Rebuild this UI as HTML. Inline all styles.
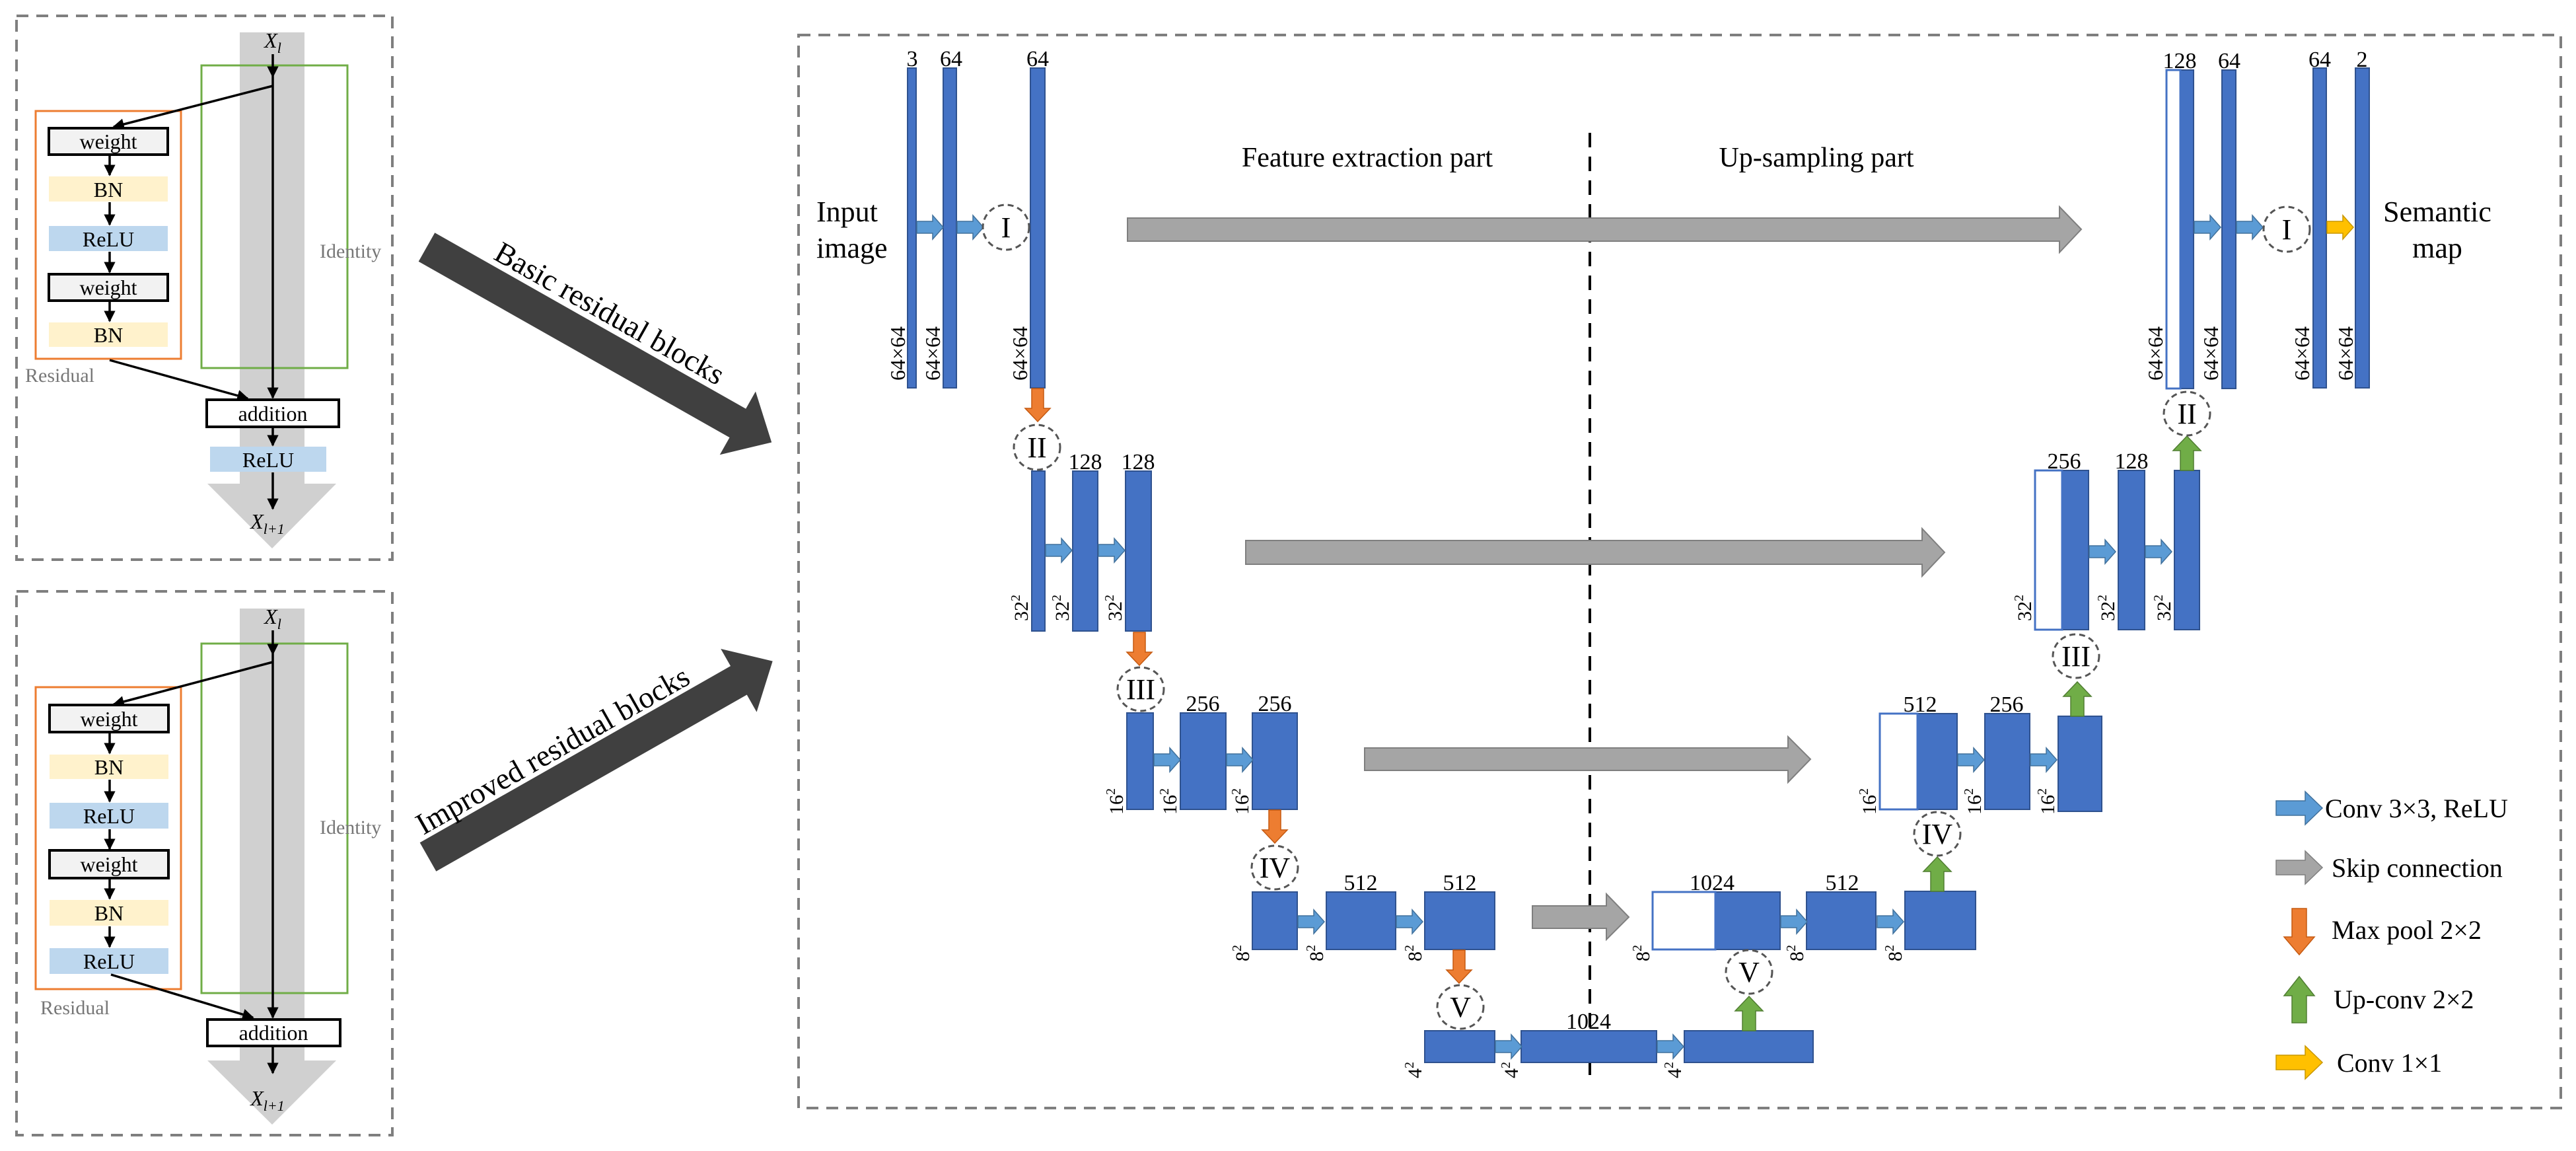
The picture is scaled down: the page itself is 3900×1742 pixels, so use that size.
<!DOCTYPE html>
<html><head><meta charset="utf-8"><style>
html,body{margin:0;padding:0;background:#fff;}
svg{display:block;font-family:"Liberation Serif",serif;}
svg text{font-family:"Liberation Serif",serif;fill:#000;}
</style></head><body>
<svg width="3900" height="1742" viewBox="0 0 3900 1742" xmlns="http://www.w3.org/2000/svg" font-family="Liberation Serif, serif">
<defs>
<marker id="ah" markerWidth="5" markerHeight="5" refX="4.5" refY="2.5" orient="auto" markerUnits="strokeWidth"><path d="M0,0 L5,2.5 L0,5 Z" fill="#000"/></marker>
<path id="ca" d="M0,-9 H24 V-18 L40,0 L24,18 V9 H0 Z" fill="#5B9BD5" stroke="#41719C" stroke-width="1.5"/>
<path id="ya" d="M0,-9 H24 V-18 L40,0 L24,18 V9 H0 Z" fill="#FFC000" stroke="#C99700" stroke-width="1.5"/>
<path id="oa" d="M-9,0 V30 H-19 L0,50 L19,30 H9 V0 Z" fill="#ED7D31" stroke="#C55A11" stroke-width="1.5"/>
<path id="ga" d="M-10,0 V-30 H-21 L0,-52 L21,-30 H10 V0 Z" fill="#70AD47" stroke="#507E32" stroke-width="1.5"/>
</defs>

<!-- LEFT PANEL 1 -->
<rect x="25" y="24" width="569" height="823" fill="none" stroke="#7F7F7F" stroke-width="4" stroke-dasharray="18,12"/>
<path d="M363,49 H461 V732 H509 L412,830 L314,732 H363 Z" fill="#D0D0D0"/>
<rect x="305" y="99" width="221" height="458" fill="none" stroke="#70AD47" stroke-width="3"/>
<rect x="54" y="168" width="220" height="375" fill="none" stroke="#ED7D31" stroke-width="3"/>
<text x="413" y="72" font-size="32" font-style="italic" text-anchor="middle">X<tspan font-size="22" dy="8">l</tspan></text>
<line x1="413" y1="82" x2="413" y2="116" stroke="#000" stroke-width="3.5" marker-end="url(#ah)"/>
<line x1="413" y1="116" x2="413" y2="602" stroke="#000" stroke-width="3.5" marker-end="url(#ah)"/>
<line x1="413" y1="130" x2="172" y2="192" stroke="#000" stroke-width="3.5" marker-end="url(#ah)"/>
<rect x="74" y="194" width="180" height="40" fill="#F2F2F2" stroke="#000" stroke-width="4"/>
<text x="164" y="225" font-size="32" text-anchor="middle">weight</text>
<line x1="166" y1="235" x2="166" y2="265" stroke="#000" stroke-width="3.5" marker-end="url(#ah)"/>
<rect x="74" y="267" width="180" height="38" fill="#FFF2CC"/>
<text x="164" y="298" font-size="32" text-anchor="middle">BN</text>
<line x1="166" y1="306" x2="166" y2="340" stroke="#000" stroke-width="3.5" marker-end="url(#ah)"/>
<rect x="74" y="342" width="180" height="38" fill="#BDD7EE"/>
<text x="164" y="373" font-size="32" text-anchor="middle">ReLU</text>
<line x1="166" y1="381" x2="166" y2="412" stroke="#000" stroke-width="3.5" marker-end="url(#ah)"/>
<rect x="74" y="415" width="180" height="40" fill="#F2F2F2" stroke="#000" stroke-width="4"/>
<text x="164" y="446" font-size="32" text-anchor="middle">weight</text>
<line x1="166" y1="456" x2="166" y2="486" stroke="#000" stroke-width="3.5" marker-end="url(#ah)"/>
<rect x="74" y="488" width="180" height="37" fill="#FFF2CC"/>
<text x="164" y="518" font-size="32" text-anchor="middle">BN</text>
<text x="38" y="578" font-size="30" style="fill:#777">Residual</text>
<text x="484" y="390" font-size="30" style="fill:#777">Identity</text>
<line x1="166" y1="545" x2="375" y2="603" stroke="#000" stroke-width="3.5" marker-end="url(#ah)"/>
<rect x="313" y="605" width="200" height="41" fill="#fff" stroke="#000" stroke-width="4"/>
<text x="413" y="637" font-size="32" text-anchor="middle">addition</text>
<line x1="413" y1="647" x2="413" y2="674" stroke="#000" stroke-width="3.5" marker-end="url(#ah)"/>
<rect x="318" y="676" width="176" height="38" fill="#BDD7EE"/>
<text x="406" y="707" font-size="32" text-anchor="middle">ReLU</text>
<line x1="413" y1="715" x2="413" y2="770" stroke="#000" stroke-width="3.5" marker-end="url(#ah)"/>
<text x="405" y="800" font-size="32" font-style="italic" text-anchor="middle">X<tspan font-size="22" dy="8">l+1</tspan></text>

<!-- LEFT PANEL 2 -->
<rect x="25" y="895" width="569" height="823" fill="none" stroke="#7F7F7F" stroke-width="4" stroke-dasharray="18,12"/>
<path d="M363,921 H461 V1605 H509 L412,1702 L314,1605 H363 Z" fill="#D0D0D0"/>
<rect x="305" y="974" width="221" height="529" fill="none" stroke="#70AD47" stroke-width="3"/>
<rect x="54" y="1040" width="220" height="457" fill="none" stroke="#ED7D31" stroke-width="3"/>
<text x="413" y="944" font-size="32" font-style="italic" text-anchor="middle">X<tspan font-size="22" dy="8">l</tspan></text>
<line x1="413" y1="954" x2="413" y2="990" stroke="#000" stroke-width="3.5" marker-end="url(#ah)"/>
<line x1="413" y1="990" x2="413" y2="1540" stroke="#000" stroke-width="3.5" marker-end="url(#ah)"/>
<line x1="413" y1="1002" x2="172" y2="1066" stroke="#000" stroke-width="3.5" marker-end="url(#ah)"/>
<rect x="75" y="1067" width="180" height="41" fill="#F2F2F2" stroke="#000" stroke-width="4"/>
<text x="165" y="1099" font-size="32" text-anchor="middle">weight</text>
<line x1="166" y1="1109" x2="166" y2="1140" stroke="#000" stroke-width="3.5" marker-end="url(#ah)"/>
<rect x="75" y="1142" width="180" height="37" fill="#FFF2CC"/>
<text x="165" y="1172" font-size="32" text-anchor="middle">BN</text>
<line x1="166" y1="1180" x2="166" y2="1213" stroke="#000" stroke-width="3.5" marker-end="url(#ah)"/>
<rect x="75" y="1215" width="180" height="39" fill="#BDD7EE"/>
<text x="165" y="1246" font-size="32" text-anchor="middle">ReLU</text>
<line x1="166" y1="1255" x2="166" y2="1285" stroke="#000" stroke-width="3.5" marker-end="url(#ah)"/>
<rect x="75" y="1287" width="180" height="42" fill="#F2F2F2" stroke="#000" stroke-width="4"/>
<text x="165" y="1319" font-size="32" text-anchor="middle">weight</text>
<line x1="166" y1="1330" x2="166" y2="1360" stroke="#000" stroke-width="3.5" marker-end="url(#ah)"/>
<rect x="75" y="1362" width="180" height="39" fill="#FFF2CC"/>
<text x="165" y="1393" font-size="32" text-anchor="middle">BN</text>
<line x1="166" y1="1402" x2="166" y2="1433" stroke="#000" stroke-width="3.5" marker-end="url(#ah)"/>
<rect x="75" y="1435" width="180" height="39" fill="#BDD7EE"/>
<text x="165" y="1466" font-size="32" text-anchor="middle">ReLU</text>
<text x="61" y="1535" font-size="30" style="fill:#777">Residual</text>
<text x="484" y="1262" font-size="30" style="fill:#777">Identity</text>
<line x1="168" y1="1475" x2="383" y2="1540" stroke="#000" stroke-width="3.5" marker-end="url(#ah)"/>
<rect x="314" y="1543" width="201" height="40" fill="#fff" stroke="#000" stroke-width="4"/>
<text x="414" y="1574" font-size="32" text-anchor="middle">addition</text>
<line x1="413" y1="1584" x2="413" y2="1624" stroke="#000" stroke-width="3.5" marker-end="url(#ah)"/>
<text x="405" y="1673" font-size="32" font-style="italic" text-anchor="middle">X<tspan font-size="22" dy="8">l+1</tspan></text>

<!-- BIG ARROWS -->
<g transform="translate(646,374) rotate(29.5)">
<path d="M0,-25 H541 V-55 L600,0 L541,55 V25 H0 Z" fill="#404040"/>
<text x="95" y="-34" font-size="46">Basic residual blocks</text>
</g>
<g transform="translate(648,1297) rotate(-29.6)">
<path d="M0,-25 H541 V-55 L600,0 L541,55 V25 H0 Z" fill="#404040"/>
<text x="10" y="-32" font-size="46">Improved residual blocks</text>
</g>

<!-- RIGHT PANEL -->
<rect x="1209" y="53" width="2668" height="1624" fill="none" stroke="#7F7F7F" stroke-width="4" stroke-dasharray="18,12"/>
<line x1="2407" y1="201" x2="2407" y2="1641" stroke="#000" stroke-width="4" stroke-dasharray="22,14"/>
<text x="2070" y="252" font-size="42" text-anchor="middle">Feature extraction part</text>
<text x="2750" y="252" font-size="42" text-anchor="middle">Up-sampling part</text>
<text x="1236" y="335" font-size="44">Input</text>
<text x="1236" y="390" font-size="44">image</text>
<text x="3690" y="335" font-size="44" text-anchor="middle">Semantic</text>
<text x="3690" y="390" font-size="44" text-anchor="middle">map</text>

<!-- skip arrows -->
<g fill="#A5A5A5" stroke="#7F7F7F" stroke-width="2">
<path d="M1707,330 H3118 V313 L3151,347 L3118,382 V365 H1707 Z"/>
<path d="M1886,818 H2910 V800 L2944,836 L2910,872 V854 H1886 Z"/>
<path d="M2066,1132 H2707 V1115 L2741,1149 L2707,1184 V1166 H2066 Z"/>
<path d="M2320,1371 H2432 V1353 L2466,1388 L2432,1422 V1405 H2320 Z"/>
</g>

<!-- bars -->
<g fill="#4472C4" stroke="#2F528F" stroke-width="2">
<rect x="1374" y="103" width="13" height="484"/>
<rect x="1428" y="103" width="20" height="484"/>
<rect x="1560" y="103" width="22" height="484"/>
<rect x="1562" y="713" width="20" height="242"/>
<rect x="1624" y="713" width="38" height="242"/>
<rect x="1704" y="713" width="39" height="242"/>
<rect x="1706" y="1079" width="40" height="146"/>
<rect x="1787" y="1079" width="69" height="146"/>
<rect x="1896" y="1079" width="68" height="146"/>
<rect x="1896" y="1350" width="68" height="87"/>
<rect x="2008" y="1350" width="105" height="87"/>
<rect x="2157" y="1350" width="106" height="87"/>
<rect x="2157" y="1560" width="106" height="48"/>
<rect x="2303" y="1560" width="205" height="48"/>
<rect x="2550" y="1560" width="195" height="48"/>
<rect x="2597" y="1350" width="98" height="87"/>
<rect x="2735" y="1350" width="105" height="87"/>
<rect x="2884" y="1349" width="107" height="88"/>
<rect x="2903" y="1080" width="60" height="145"/>
<rect x="3005" y="1080" width="68" height="145"/>
<rect x="3116" y="1084" width="66" height="144"/>
<rect x="3122" y="712" width="40" height="241"/>
<rect x="3207" y="712" width="40" height="241"/>
<rect x="3292" y="712" width="38" height="241"/>
<rect x="3301" y="106" width="20" height="482"/>
<rect x="3364" y="106" width="21" height="482"/>
<rect x="3502" y="103" width="20" height="484"/>
<rect x="3566" y="103" width="21" height="484"/>
</g>
<g fill="#fff" stroke="#4472C4" stroke-width="3">
<rect x="2502" y="1350" width="95" height="87"/>
<rect x="2846" y="1080" width="57" height="145"/>
<rect x="3081" y="712" width="41" height="241"/>
<rect x="3280" y="106" width="21" height="482"/>
</g>

<!-- conv arrows -->
<use href="#ca" x="1388" y="344"/>
<use href="#ca" x="1449" y="344"/>
<use href="#ca" x="1583" y="833"/>
<use href="#ca" x="1663" y="833"/>
<use href="#ca" x="1747" y="1150"/>
<use href="#ca" x="1857" y="1150"/>
<use href="#ca" x="1965" y="1395"/>
<use href="#ca" x="2114" y="1395"/>
<use href="#ca" x="2264" y="1584"/>
<use href="#ca" x="2509" y="1584"/>
<use href="#ca" x="2696" y="1395"/>
<use href="#ca" x="2842" y="1395"/>
<use href="#ca" x="2964" y="1150"/>
<use href="#ca" x="3074" y="1150"/>
<use href="#ca" x="3163" y="835"/>
<use href="#ca" x="3248" y="835"/>
<use href="#ca" x="3322" y="344"/>
<use href="#ca" x="3386" y="344"/>
<use href="#ya" x="3523" y="344"/>

<!-- pool / upconv -->
<use href="#oa" x="1571" y="588"/>
<use href="#oa" x="1725" y="957"/>
<use href="#oa" x="1930" y="1226"/>
<use href="#oa" x="2209" y="1438"/>
<use href="#ga" x="2648" y="1560"/>
<use href="#ga" x="2933" y="1349"/>
<use href="#ga" x="3145" y="1084"/>
<use href="#ga" x="3311" y="712"/>

<!-- circles -->
<g fill="#fff" stroke="#555" stroke-width="3" stroke-dasharray="9,6">
<ellipse cx="1523" cy="344" rx="35" ry="34"/>
<ellipse cx="1570" cy="677" rx="35" ry="34"/>
<ellipse cx="1727" cy="1043" rx="35" ry="33"/>
<ellipse cx="1930" cy="1313" rx="35" ry="33"/>
<ellipse cx="2211" cy="1524" rx="35" ry="33"/>
<ellipse cx="2648" cy="1471" rx="35" ry="33"/>
<ellipse cx="2933" cy="1262" rx="35" ry="33"/>
<ellipse cx="3143" cy="993" rx="35" ry="33"/>
<ellipse cx="3311" cy="626" rx="35" ry="33"/>
<ellipse cx="3462" cy="347" rx="35" ry="34"/>
</g>
<g font-size="44" text-anchor="middle">
<text x="1523" y="359">I</text>
<text x="1570" y="692">II</text>
<text x="1727" y="1058">III</text>
<text x="1930" y="1328">IV</text>
<text x="2211" y="1539">V</text>
<text x="2648" y="1486">V</text>
<text x="2933" y="1277">IV</text>
<text x="3143" y="1008">III</text>
<text x="3311" y="641">II</text>
<text x="3462" y="362">I</text>
</g>

<!-- channel labels -->
<g font-size="34" text-anchor="middle">
<text x="1381" y="100">3</text>
<text x="1440" y="100">64</text>
<text x="1571" y="100">64</text>
<text x="1643" y="710">128</text>
<text x="1723" y="710">128</text>
<text x="1821" y="1076">256</text>
<text x="1930" y="1076">256</text>
<text x="2060" y="1347">512</text>
<text x="2210" y="1347">512</text>
<text x="2405" y="1557">1024</text>
<text x="2592" y="1347">1024</text>
<text x="2789" y="1347">512</text>
<text x="2907" y="1077">512</text>
<text x="3038" y="1077">256</text>
<text x="3125" y="709">256</text>
<text x="3227" y="709">128</text>
<text x="3300" y="103">128</text>
<text x="3375" y="103">64</text>
<text x="3512" y="101">64</text>
<text x="3576" y="101">2</text>
</g>

<!-- size labels (rotated) -->
<g font-size="32">
<text transform="translate(1370,576) rotate(-90)">64×64</text>
<text transform="translate(1423,576) rotate(-90)">64×64</text>
<text transform="translate(1555,576) rotate(-90)">64×64</text>
<text transform="translate(3274,576) rotate(-90)">64×64</text>
<text transform="translate(3358,576) rotate(-90)">64×64</text>
<text transform="translate(3496,576) rotate(-90)">64×64</text>
<text transform="translate(3562,576) rotate(-90)">64×64</text>
</g>
<g font-size="30">
<text transform="translate(1556,940) rotate(-90)">32<tspan font-size="20" dy="-12">2</tspan></text>
<text transform="translate(1618,940) rotate(-90)">32<tspan font-size="20" dy="-12">2</tspan></text>
<text transform="translate(1698,940) rotate(-90)">32<tspan font-size="20" dy="-12">2</tspan></text>
<text transform="translate(3075,940) rotate(-90)">32<tspan font-size="20" dy="-12">2</tspan></text>
<text transform="translate(3201,940) rotate(-90)">32<tspan font-size="20" dy="-12">2</tspan></text>
<text transform="translate(3286,940) rotate(-90)">32<tspan font-size="20" dy="-12">2</tspan></text>
<text transform="translate(1700,1233) rotate(-90)">16<tspan font-size="20" dy="-12">2</tspan></text>
<text transform="translate(1781,1233) rotate(-90)">16<tspan font-size="20" dy="-12">2</tspan></text>
<text transform="translate(1890,1233) rotate(-90)">16<tspan font-size="20" dy="-12">2</tspan></text>
<text transform="translate(2840,1233) rotate(-90)">16<tspan font-size="20" dy="-12">2</tspan></text>
<text transform="translate(2999,1233) rotate(-90)">16<tspan font-size="20" dy="-12">2</tspan></text>
<text transform="translate(3110,1233) rotate(-90)">16<tspan font-size="20" dy="-12">2</tspan></text>
<text transform="translate(1891,1455) rotate(-90)">8<tspan font-size="20" dy="-12">2</tspan></text>
<text transform="translate(2003,1455) rotate(-90)">8<tspan font-size="20" dy="-12">2</tspan></text>
<text transform="translate(2152,1455) rotate(-90)">8<tspan font-size="20" dy="-12">2</tspan></text>
<text transform="translate(2497,1455) rotate(-90)">8<tspan font-size="20" dy="-12">2</tspan></text>
<text transform="translate(2730,1455) rotate(-90)">8<tspan font-size="20" dy="-12">2</tspan></text>
<text transform="translate(2879,1455) rotate(-90)">8<tspan font-size="20" dy="-12">2</tspan></text>
<text transform="translate(2152,1632) rotate(-90)">4<tspan font-size="20" dy="-12">2</tspan></text>
<text transform="translate(2298,1632) rotate(-90)">4<tspan font-size="20" dy="-12">2</tspan></text>
<text transform="translate(2545,1632) rotate(-90)">4<tspan font-size="20" dy="-12">2</tspan></text>
</g>

<!-- legend -->
<path d="M3446,1212 H3490 V1198 L3516,1223 L3490,1248 V1234 H3446 Z" fill="#5B9BD5" stroke="#41719C" stroke-width="1.5"/>
<path d="M3446,1302 H3490 V1288 L3516,1313 L3490,1338 V1324 H3446 Z" fill="#A5A5A5" stroke="#7F7F7F" stroke-width="1.5"/>
<path d="M3470,1375 H3492 V1418 H3504 L3481,1445 L3458,1418 H3470 Z" fill="#ED7D31" stroke="#C55A11" stroke-width="1.5"/>
<path d="M3470,1548 H3492 V1507 H3504 L3481,1478 L3458,1507 H3470 Z" fill="#70AD47" stroke="#507E32" stroke-width="1.5"/>
<path d="M3446,1597 H3490 V1583 L3516,1608 L3490,1633 V1619 H3446 Z" fill="#FFC000" stroke="#C99700" stroke-width="1.5"/>
<g font-size="40">
<text x="3520" y="1237">Conv 3×3, ReLU</text>
<text x="3530" y="1327">Skip connection</text>
<text x="3530" y="1421">Max pool 2×2</text>
<text x="3533" y="1526">Up-conv 2×2</text>
<text x="3538" y="1622">Conv 1×1</text>
</g>
</svg>
</body></html>
